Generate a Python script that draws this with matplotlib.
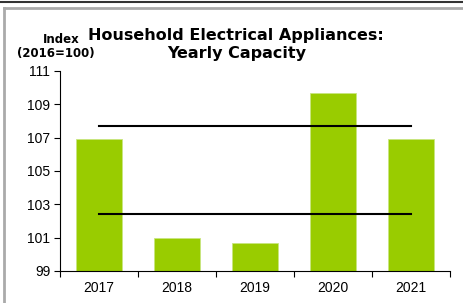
import matplotlib.pyplot as plt
from matplotlib.lines import Line2D

years = ['2017', '2018', '2019', '2020', '2021']
capacity = [106.9, 101.0, 100.7, 109.7, 106.95]
upper_band = 107.7
lower_band = 102.4
yticks = [99, 101, 103, 105, 107, 109, 111]

plt.rcParams['font.family'] = ['Liberation Sans', 'DejaVu Sans']

W, H = 463, 303
fig = plt.figure(figsize=(W / 100, H / 100), dpi=100)
ax = fig.add_axes([60 / W, (H - 271) / H, 390 / W, 200 / H])

x = list(range(len(years)))
ax.bar(x, capacity, width=0.59, color='#99cc00', edgecolor='#c8e680', linewidth=0.6, zorder=2)
ax.plot([x[0], x[-1]], [upper_band, upper_band], color='black', lw=1.5, zorder=3)
ax.plot([x[0], x[-1]], [lower_band, lower_band], color='black', lw=1.5, zorder=3)

ax.set_xlim(-0.5, len(years) - 0.5)
ax.set_ylim(99, 111)
ax.set_yticks(yticks)
ax.set_yticklabels([str(v) for v in yticks], fontsize=10)
ax.set_xticks([i - 0.5 for i in range(len(years) + 1)])
ax.set_xticklabels([])
ax.set_xticks(x, minor=True)
ax.set_xticklabels(years, minor=True, fontsize=10)
ax.tick_params(axis='x', which='minor', length=0, pad=7)
ax.tick_params(axis='x', which='major', length=4, direction='out')
ax.tick_params(axis='y', length=4, direction='out', pad=3)
for s in ['top', 'right']:
    ax.spines[s].set_visible(False)

fig.text(236 / W, 1 - 40 / H, 'Household Electrical Appliances:', ha='center', va='baseline',
         fontsize=11.5, fontweight='bold', family='DejaVu Sans')
fig.text(237 / W, 1 - 58 / H, 'Yearly Capacity', ha='center', va='baseline',
         fontsize=11.5, fontweight='bold', family='DejaVu Sans')
fig.text(61 / W, 1 - 43 / H, 'Index', ha='center', va='baseline', fontsize=8.5,
         fontweight='bold', family='DejaVu Sans')
fig.text(56 / W, 1 - 57 / H, '(2016=100)', ha='center', va='baseline', fontsize=8.5,
         fontweight='bold', family='DejaVu Sans')

# frame lines
fig.add_artist(Line2D([0, 1], [1 - 1.5 / H, 1 - 1.5 / H], color='#333333', lw=1.5))
fig.add_artist(Line2D([3.5 / W, 1], [1 - 7.5 / H, 1 - 7.5 / H], color='#aaaaaa', lw=2))
fig.add_artist(Line2D([3.5 / W, 3.5 / W], [0, 1 - 7.5 / H], color='#aaaaaa', lw=2))

fig.savefig('out.png', dpi=100)
